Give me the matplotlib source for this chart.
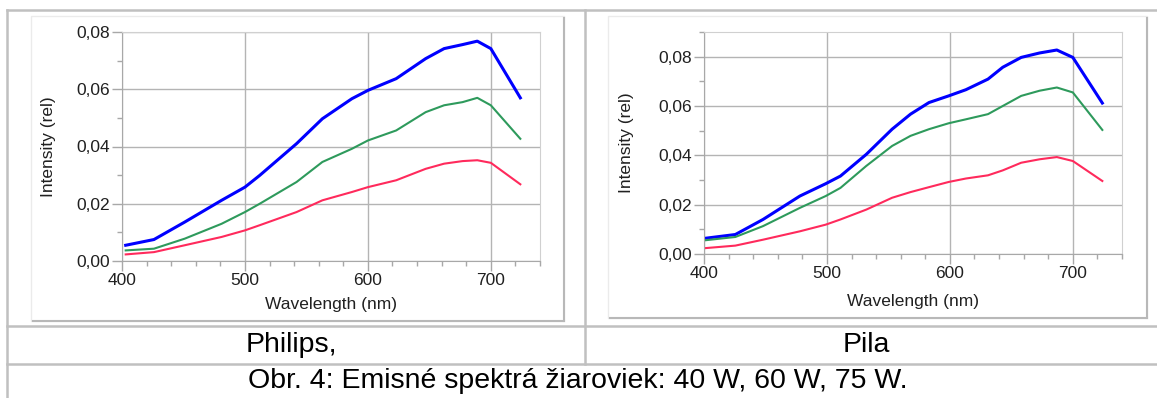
import matplotlib
matplotlib.use("Agg")
import matplotlib.pyplot as plt
import matplotlib.ticker as ticker
from matplotlib.lines import Line2D
from matplotlib.patches import Rectangle

plt.rcParams['font.family'] = ['Liberation Sans', 'DejaVu Sans']

W, H = 1157, 398

# Philips
wl_philips = [403, 426, 451, 481, 500, 512, 542, 563, 587, 600, 623, 647, 662, 677, 689, 700, 724]
philips_75 = [0.0055, 0.0075, 0.0136, 0.0212, 0.0258, 0.0299, 0.0410, 0.0497, 0.0567, 0.0596,
              0.0637, 0.0707, 0.0742, 0.0756, 0.0768, 0.0742, 0.0570]
philips_60 = [0.0037, 0.0043, 0.0078, 0.0130, 0.0171, 0.0200, 0.0276, 0.0346, 0.0392, 0.0421,
              0.0456, 0.0520, 0.0544, 0.0555, 0.0570, 0.0544, 0.0427]
philips_40 = [0.0023, 0.0031, 0.0055, 0.0084, 0.0107, 0.0125, 0.0171, 0.0212, 0.0241, 0.0258,
              0.0282, 0.0322, 0.0340, 0.0349, 0.0352, 0.0343, 0.0268]

# Pila
wl_pila = [401.5, 425.5, 448, 478, 499, 511, 532, 553, 568, 583, 599, 613, 631, 643, 658, 673, 687, 700, 724]
pila_75 = [0.0064, 0.0079, 0.0140, 0.0235, 0.0285, 0.0316, 0.0404, 0.0506, 0.0567, 0.0614,
           0.0641, 0.0666, 0.0709, 0.0757, 0.0797, 0.0815, 0.0827, 0.0797, 0.0612]
pila_60 = [0.0056, 0.0069, 0.0113, 0.0187, 0.0235, 0.0268, 0.0357, 0.0438, 0.0479, 0.0506,
           0.0530, 0.0546, 0.0567, 0.0600, 0.0641, 0.0662, 0.0675, 0.0655, 0.0503]
pila_40 = [0.0024, 0.0034, 0.0058, 0.0092, 0.0119, 0.0140, 0.0180, 0.0228, 0.0251, 0.0271,
           0.0292, 0.0306, 0.0319, 0.0339, 0.0370, 0.0384, 0.0393, 0.0377, 0.0296]

names = ['Philips,', 'Pila']
caption = 'Obr. 4: Emisné spektrá žiaroviek: 40 W, 60 W, 75 W.'


def px(x, y):
    return x / W, 1 - y / H


def hline(x0, x1, y, c='#c0c0c0', lw=1.8):
    fig.add_artist(Line2D([x0 / W, x1 / W], [1 - y / H, 1 - y / H], color=c, lw=lw))


def vline(x, y0, y1, c='#c0c0c0', lw=1.8):
    fig.add_artist(Line2D([x / W, x / W], [1 - y0 / H, 1 - y1 / H], color=c, lw=lw))


def frame(x0, y0, x1, y1):
    fig.add_artist(Rectangle(px(x0, y1), (x1 - x0) / W, (y1 - y0) / H,
                             fill=False, ec='#ebebeb', lw=1.0))
    hline(x0 + 2, x1, y1, c='#b8b8b8', lw=1.5)
    vline(x1, y0 + 2, y1, c='#b8b8b8', lw=1.5)


def chart(rect, wl, s75, s60, s40, ytop, lab_x, lab_y):
    ax = fig.add_axes(rect)
    ax.plot(wl, s75, color='#0000ff', lw=2.2, solid_joinstyle='round')
    ax.plot(wl, s60, color='#2e9a5c', lw=1.5, solid_joinstyle='round')
    ax.plot(wl, s40, color='#ff2a5c', lw=1.5, solid_joinstyle='round')
    ax.set_xlim(400, 740)
    ax.set_ylim(0, ytop)
    ax.xaxis.set_major_locator(ticker.MultipleLocator(100))
    ax.xaxis.set_minor_locator(ticker.MultipleLocator(20))
    ax.yaxis.set_major_locator(ticker.MultipleLocator(0.02))
    ax.yaxis.set_minor_locator(ticker.MultipleLocator(0.01))
    ax.yaxis.set_major_formatter(ticker.FuncFormatter(lambda v, p: f"{v:.2f}".replace('.', ',')))
    ax.grid(which='major', color='#b4b4b4', lw=1.0)
    ax.set_axisbelow(True)
    ax.tick_params(which='major', length=7, width=1, color='#a8a8a8', labelsize=12.5,
                   labelcolor='#202020', pad=1.5)
    ax.tick_params(which='minor', length=3.5, width=1, color='#a8a8a8')
    for s in ['top', 'right']:
        ax.spines[s].set_color('#d0d0d0')
    for s in ['left', 'bottom']:
        ax.spines[s].set_color('#a8a8a8')
    ax.set_xlabel('Wavelength (nm)', fontsize=12.5, color='#202020', va='center')
    ax.set_ylabel('Intensity (rel)', fontsize=12.5, color='#202020', va='center')
    ax.xaxis.set_label_coords(0.5, lab_y)
    ax.yaxis.set_label_coords(lab_x, 0.5)
    return ax


fig = plt.figure(figsize=(W / 100, H / 100), dpi=100)

# table borders
hline(7, W, 10)
vline(7, 10, H)
hline(7, W, 326)
hline(7, W, 364)
vline(585, 10, 364)

frame(31, 16, 564, 321)
frame(608, 16, 1147, 318)

chart([122 / W, 1 - 261 / H, 418 / W, 229 / H], wl_philips, philips_75, philips_60, philips_40,
      0.08, -0.175, -0.19)
chart([704 / W, 1 - 254 / H, 418 / W, 222 / H], wl_pila, pila_75, pila_60, pila_40,
      0.09, -0.185, -0.215)

fig.text(291 / W, 1 - 345 / H, names[0], ha='center', va='center', fontsize=20.5)
fig.text(866 / W, 1 - 345 / H, names[1], ha='center', va='center', fontsize=20.5)
fig.text(578 / W, 1 - 381 / H, caption, ha='center', va='center', fontsize=20.5)

fig.savefig('out.png', dpi=100)
